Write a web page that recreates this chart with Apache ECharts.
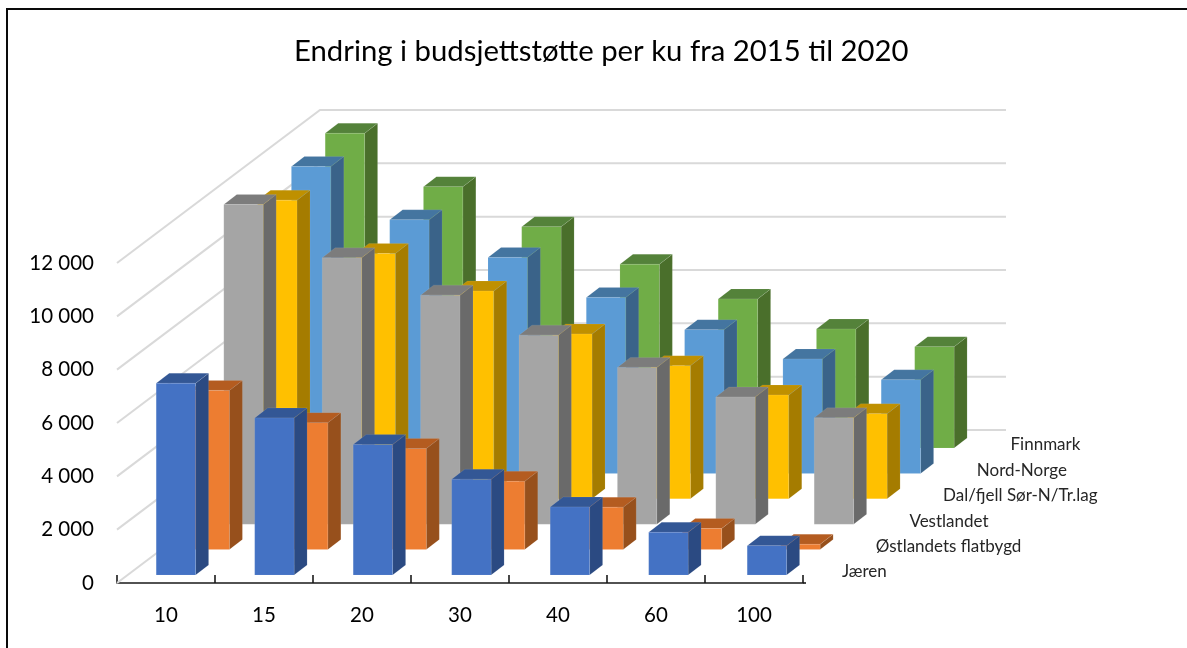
<!DOCTYPE html>
<html><head><meta charset="utf-8">
<script src="https://cdn.jsdelivr.net/npm/echarts@6/dist/echarts.min.js"></script>
<style>html,body{margin:0;padding:0;background:#fff}#c{width:1187px;height:648px}</style>
</head><body><div id="c"></div>
<script>
const title = 'Endring i budsjettstøtte per ku fra 2015 til 2020';
const categories = ['10','15','20','30','40','60','100'];
const yTicks = [0,2000,4000,6000,8000,10000,12000];
// series in depth order: front to back
const seriesNames = ['Jæren','Østlandets flatbygd','Vestlandet','Dal/fjell Sør-N/Tr.lag','Nord-Norge','Finnmark'];
const jaeren     = [7190,5890,4890,3590,2550,1600,1100];
const ostlandet  = [5970,4760,3790,2560,1590,790,200];
const vestlandet = [11990,9990,8590,7090,5880,4770,3990];
const dalfjell   = [11200,9200,7790,6180,4990,3890,3190];
const nordnorge  = [11510,9510,8100,6600,5390,4290,3510];
const finnmark   = [11800,9800,8300,6890,5590,4460,3800];
const seriesValues = [jaeren,ostlandet,vestlandet,dalfjell,nordnorge,finnmark];
const faceColors = [
  ['#4472c4','#2b4a82','#335795'],
  ['#ed7d31','#97501c','#b45c20'],
  ['#a5a5a5','#6a6a6a','#7c7c7c'],
  ['#ffc000','#a57c00','#bf9000'],
  ['#5b9bd5','#3a6389','#4475a0'],
  ['#70ad47','#4a6f2b','#54823a']
];
const font = 'Lato';
// oblique projection (pixels per depth slot)
const stepX = 33.8, stepY = 25.4, baseX = 10.2, baseY = 8;
const wallX = 203, wallY = 153, barDepthX = 13, barDepthY = 10, barRatio = 39.4/98;

function barRender(si){
  return function(params, api){
    const i = api.value(0), v = api.value(1);
    const w = api.size([1,0])[0]*barRatio;
    const ox = baseX + si*stepX + i*(0.5-0.05*si), oy = -baseY - si*stepY;
    const p0 = api.coord([i,0]), p1 = api.coord([i,v]);
    const x0 = p0[0]-w/2+ox-0.3, x1 = x0+w, yb = p0[1]+oy, yt = p1[1]+oy;
    const c = faceColors[si];
    const edge = 'rgba(255,255,255,0.12)';
    const poly = (pts,fill)=>({type:'polygon',shape:{points:pts},style:{fill:fill,stroke:edge,lineWidth:0.7}});
    return {type:'group',children:[
      poly([[x1,yb],[x1+barDepthX,yb-barDepthY],[x1+barDepthX,yt-barDepthY],[x1,yt]],c[1]),
      poly([[x0,yt],[x1,yt],[x1+barDepthX,yt-barDepthY],[x0+barDepthX,yt-barDepthY]],c[2]),
      poly([[x0,yb],[x1,yb],[x1,yt],[x0,yt]],c[0])
    ]};
  };
}
function wallRender(params, api){
  const v = api.value(0);
  const half = api.size([1,0])[0]/2;
  const a = api.coord([0,v]), b = api.coord([categories.length-1,v]);
  const x0 = a[0]-half, x1 = b[0]+half, y = a[1];
  return {type:'polyline',shape:{points:[[x0,y],[x0+wallX,y-wallY],[x1+wallX,y-wallY]]},
    style:{fill:null,stroke:'#d9d9d9',lineWidth:2}};
}
function depthLabelRender(params, api){
  const si = api.value(0);
  const half = api.size([1,0])[0]/2;
  const p = api.coord([categories.length-1,0]);
  return {type:'text',style:{text:seriesNames[si],x:p[0]+half+39+si*33.7,y:p[1]-11-si*25.4,
    fill:'#262626',font:'17px '+font,textAlign:'left',textVerticalAlign:'middle'}};
}
const series = [{type:'custom',name:'walls',renderItem:wallRender,data:yTicks.map(v=>[v]),
  encode:{y:0},silent:true,z:1,clip:false}];
for(let si=seriesNames.length-1;si>=0;si--){
  series.push({type:'custom',name:seriesNames[si],renderItem:barRender(si),clip:false,
    data:seriesValues[si].map((v,i)=>[i,v]),encode:{x:0,y:1},z:2+(5-si)});
}
series.push({type:'custom',name:'labels',renderItem:depthLabelRender,clip:false,silent:true,z:10,
  data:seriesNames.map((n,i)=>[i]),encode:{}});
const chart = echarts.init(document.getElementById('c'),null,{renderer:'canvas'});
chart.setOption({
  animation:false,backgroundColor:'#fff',
  title:{text:title,left:289,top:32,textStyle:{fontFamily:font,fontWeight:'normal',fontSize:29.3,color:'#000'}},
  grid:{left:117,top:263,width:686,height:320},
  xAxis:{type:'category',data:categories,
    axisLine:{show:true,lineStyle:{color:'#1a1a1a',width:1.6}},
    axisTick:{show:true,inside:true,length:8,lineStyle:{color:'#1a1a1a',width:1.6}},
    axisLabel:{fontFamily:font,fontSize:20.5,color:'#000',margin:22},splitLine:{show:false}},
  yAxis:{type:'value',min:0,max:12000,interval:2000,
    axisLine:{show:false},axisTick:{show:false},splitLine:{show:false},
    axisLabel:{fontFamily:font,fontSize:20.5,color:'#000',margin:23,padding:[4,0,0,0],
      formatter:v=>String(v).replace(/\B(?=(\d{3})+$)/g,' ')}},
  graphic:[
    {type:'line',shape:{x1:6,y1:9,x2:1187,y2:9},style:{stroke:'#0a0a0a',lineWidth:2},silent:true,z:100},
    {type:'line',shape:{x1:7,y1:8,x2:7,y2:648},style:{stroke:'#0a0a0a',lineWidth:2},silent:true,z:100},
    {type:'line',shape:{x1:803,y1:583,x2:806,y2:583},style:{stroke:'#1a1a1a',lineWidth:1.6},silent:true,z:100}
  ],
  series:series
});
</script></body></html>
